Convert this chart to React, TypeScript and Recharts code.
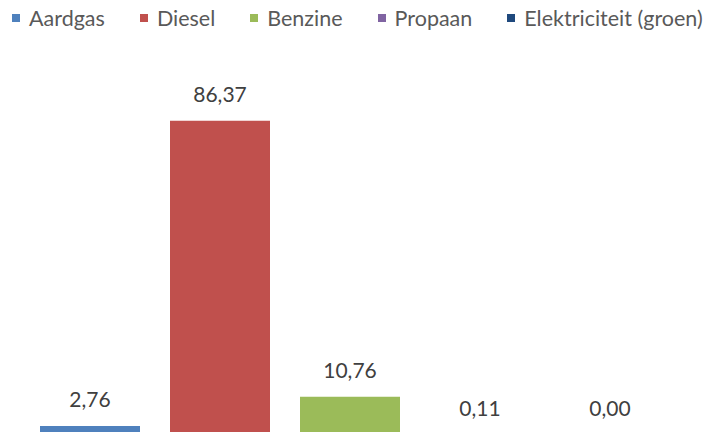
import { BarChart, Bar, XAxis, YAxis, Cell, LabelList } from "recharts";

const categories = ["Aardgas", "Diesel", "Benzine", "Propaan", "Elektriciteit (groen)"];
const shares = [2.76, 86.37, 10.76, 0.11, 0.0];
const colors = ["#4F81BD", "#C0504D", "#9BBB59", "#8064A2", "#1F497D"];

const data = categories.map((name, i) => ({ name, value: shares[i] }));

const fmt = (v: number) => Number(v).toFixed(2).replace(".", ",");

const FONT = "Lato, 'Liberation Sans', sans-serif";

const ChartLegend = () => (
  <div
    style={{
      position: "absolute",
      top: 6,
      left: 12,
      display: "flex",
      gap: 35,
      fontFamily: FONT,
      fontSize: 21.5,
      color: "#595959",
      lineHeight: "24px",
      whiteSpace: "nowrap",
    }}
  >
    {categories.map((c, i) => (
      <div key={c} style={{ display: "flex", alignItems: "center" }}>
        <span
          style={{
            display: "inline-block",
            width: 8,
            height: 8,
            background: colors[i],
            marginRight: 9,
          }}
        />
        <span>{c}</span>
      </div>
    ))}
  </div>
);

export default function App() {
  return (
    <div
      style={{
        position: "absolute",
        left: 0,
        top: 0,
        width: 703,
        height: 432,
        overflow: "hidden",
        background: "#fff",
      }}
    >
      <ChartLegend />
      <BarChart
        width={703}
        height={440}
        data={data}
        margin={{ top: 71, right: 28, bottom: 4, left: 25 }}
      >
        <XAxis dataKey="name" hide />
        <YAxis hide domain={[0, 100]} />
        <Bar dataKey="value" barSize={100} minPointSize={1} isAnimationActive={false}>
          {data.map((d, i) => (
            <Cell key={d.name} fill={colors[i]} />
          ))}
          <LabelList
            dataKey="value"
            position="top"
            offset={19}
            formatter={(v: any) => fmt(v)}
            style={{ fill: "#404040", fontFamily: FONT, fontSize: 21 }}
          />
        </Bar>
      </BarChart>
    </div>
  );
}
